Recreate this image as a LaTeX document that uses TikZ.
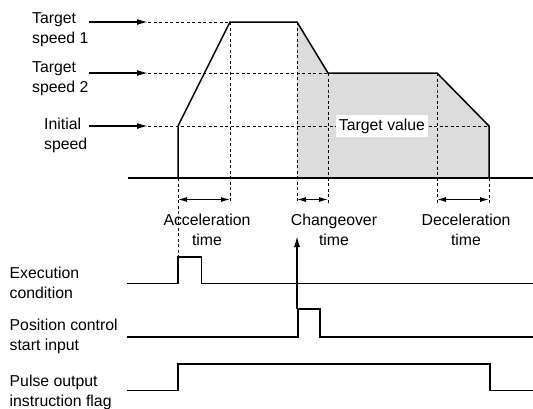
\documentclass[tikz,border=0pt]{standalone}
\usepackage{fontspec}
\setmainfont{Liberation Sans}
\usetikzlibrary{arrows.meta}
\definecolor{areagrey}{RGB}{220,220,220}
\begin{document}
\begin{tikzpicture}[x=1pt,y=-1pt,
  sig/.style={line width=1.5pt, line join=miter},
  guide/.style={line width=0.9pt, dash pattern=on 3pt off 2.5pt},
  lbl/.style={font=\fontsize{15.8}{20}\selectfont, align=left, anchor=west, inner sep=0pt},
  tlbl/.style={font=\fontsize{15.8}{20}\selectfont, align=center, inner sep=0pt},
  ptr/.style={line width=1.4pt, -{Latex[length=11pt,width=6pt]}},
  spanarr/.style={line width=1.1pt, {Latex[length=9pt,width=5pt]}-{Latex[length=9pt,width=5pt]}}]
\useasboundingbox (0,0) rectangle (533,408);

% named points
\coordinate (p0) at (178,178);
\coordinate (p1) at (178,126);
\coordinate (p2) at (230,22);
\coordinate (p3) at (297,22);
\coordinate (p4) at (328,73);
\coordinate (p5) at (437,73);
\coordinate (p6) at (489,126);
\coordinate (p7) at (489,178);
\coordinate (b0) at (128,178);
\coordinate (b1) at (533,178);

% shaded area
\fill[areagrey] (297,178) -- (p3) -- (p4) -- (p5) -- (p6) -- (p7) -- cycle;

% dashed guides
\draw[guide] (148,22) -- (p2);
\draw[guide] (148,73) -- (p4);
\draw[guide] (148,126) -- (p6);
\draw[guide] (p0) -- (178,257);
\draw[guide] (p2) -- (230,203);
\draw[guide] (p3) -- (297,203);
\draw[guide] (p4) -- (328,203);
\draw[guide] (p5) -- (437,203);
\draw[guide] (p7) -- (489,203);

\node[tlbl, fill=white, inner xsep=3pt, inner ysep=4pt] (tv) at (382,126) {Target value};

% speed profile
\draw[sig] (b0) -- (b1);
\draw[sig] (p0) -- (p1) -- (p2) -- (p3) -- (p4) -- (p5) -- (p6) -- (p7);

% left labels and arrows
\node[lbl] (ts1) at (32,29.5) {Target\\speed 1};
\node[lbl] (ts2) at (32,78.5) {Target\\speed 2};
\node[lbl] (isp) at (44,135) {Initial\\speed};
\coordinate (a1s) at (89,22); \coordinate (a1e) at (148,22);
\coordinate (a2s) at (89,73); \coordinate (a2e) at (148,73);
\coordinate (a3s) at (89,126); \coordinate (a3e) at (148,126);
\draw[ptr] (a1s) -- (a1e);
\draw[ptr] (a2s) -- (a2e);
\draw[ptr] (a3s) -- (a3e);

% spans
\draw[spanarr] (178,199.5) -- (230,199.5);
\draw[spanarr] (297,199.5) -- (328,199.5);
\draw[spanarr] (437,199.5) -- (489,199.5);
\node[tlbl] (acc) at (207,230) {Acceleration\\time};
\node[tlbl] (chg) at (334,230) {Changeover\\time};
\node[tlbl] (dec) at (466,230) {Deceleration\\time};

% signals
\node[lbl] (ex) at (9.5,283) {Execution\\condition};
\node[lbl] (pc) at (9.5,336) {Position control\\start input};
\node[lbl] (po) at (9.5,392) {Pulse output\\instruction flag};

\draw[sig] (126.5,283.5) -- (178,283.5) -- (178,257) -- (201.5,257) -- (201.5,283.5) -- (533,283.5);
\draw[sig] (126.5,337) -- (298,337) -- (298,309) -- (320,309) -- (320,337) -- (533,337);
\draw[sig] (126.5,390.7) -- (178,390.7) -- (178,364) -- (490,364) -- (490,390.7) -- (533,390.7);
\coordinate (up0) at (297,309);
\coordinate (up1) at (297,236);
\draw[ptr] (up0) -- (up1);
\end{tikzpicture}
\end{document}
